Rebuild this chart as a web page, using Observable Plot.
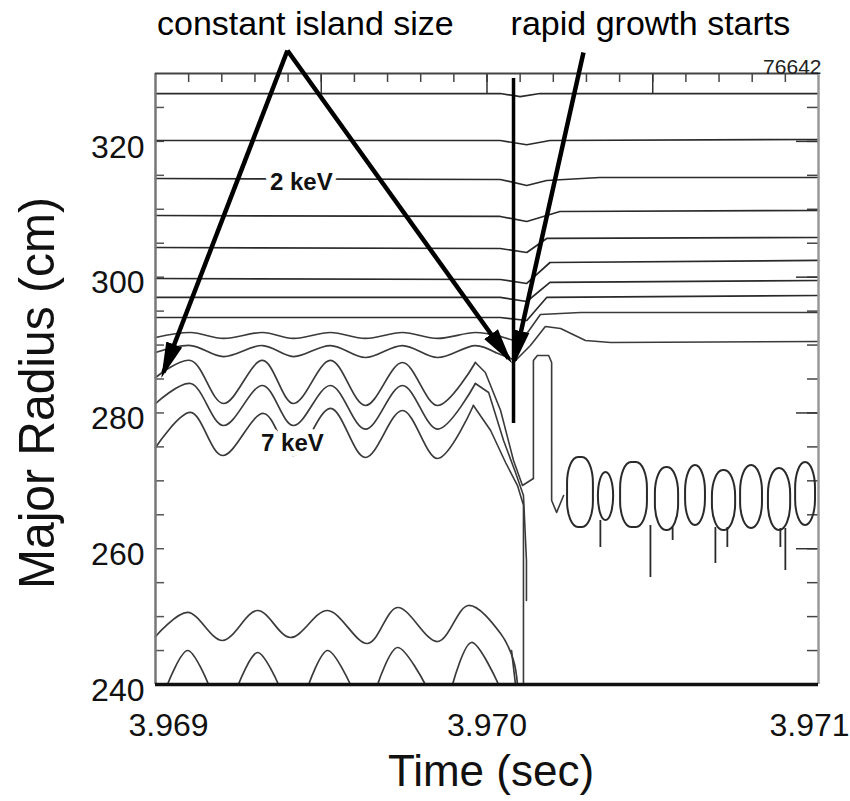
<!DOCTYPE html>
<html><head><meta charset="utf-8">
<script src="https://cdn.jsdelivr.net/npm/d3@7"></script>
<script src="https://cdn.jsdelivr.net/npm/@observablehq/plot@0.6"></script>
<style>html,body{margin:0;padding:0;background:#fff;} #chart svg{display:block;}</style>
</head><body><div id="chart"></div>
<script>
// ---------- axis values ----------
const xTicks = [3.969, 3.970, 3.971];
const yTicks = [240, 260, 280, 300, 320];

// ---------- flat Te contours (time s, major radius cm) ----------
const L1 = [[3.96900,327.05],[3.97004,327.05],[3.97010,326.6],[3.97016,327.05],[3.97100,327.05]];
const L2 = [[3.96900,320.13],[3.97004,320.13],[3.97012,319.5],[3.97019,320.13],[3.97100,320.28]];
const L3 = [[3.96900,314.53],[3.97004,314.39],[3.97012,313.5],[3.97018,314.24],[3.97034,314.68],[3.97100,314.68]];
const L4 = [[3.96900,309.08],[3.97004,308.94],[3.97012,308.2],[3.97022,309.67],[3.97100,309.82]];
const L5 = [[3.96900,304.37],[3.97004,304.22],[3.97012,303.63],[3.97018,305.7],[3.97100,305.84]];
const L6 = [[3.96900,299.8],[3.97004,299.66],[3.97012,299.07],[3.97019,302.16],[3.97100,302.46]];
const L7 = [[3.96900,297.01],[3.97004,297.01],[3.97012,296.42],[3.97019,299.22],[3.97100,299.51]];
const L8 = [[3.96900,294.06],[3.97004,294.06],[3.97012,293.62],[3.97018,297.01],[3.97100,297.3]];

// ---------- oscillating contours (island rotation) ----------
const W9  = [[3.96900,291.11],[3.969106,291.85],[3.969205,290.97],[3.969323,291.85],[3.969416,290.97],[3.969528,291.85],[3.969633,290.97],[3.969745,291.85],[3.969851,290.97],[3.969965,291.85],[3.970041,291.26]];
const T9  = [[3.970041,291.26],[3.970101,290.38],[3.970161,294.5],[3.970282,294.8],[3.97100,294.8]];
const W10 = [[3.96900,288.9],[3.969106,289.93],[3.969205,288.31],[3.969323,289.93],[3.969416,288.31],[3.969528,289.93],[3.969633,288.17],[3.969745,289.93],[3.969851,288.17],[3.969965,289.93],[3.970026,288.9]];
const T10 = [[3.970026,288.9],[3.970086,287.73],[3.970131,289.93],[3.970176,292.73],[3.970222,292.44],[3.970297,290.67],[3.970373,290.38],[3.97100,290.52]];
const W11 = [[3.96900,285.22],[3.969106,287.73],[3.969205,281.39],[3.969323,287.73],[3.969416,281.39],[3.969528,287.73],[3.969633,281.10],[3.969745,287.43],[3.969851,281.10],[3.969965,287.43]];
const T11 = [[3.969965,287.43],[3.969995,285.96],[3.970041,280.36],[3.970080,273.0],[3.970107,269.31],[3.970140,270.34],[3.970140,287.73],[3.970152,288.46],[3.970186,288.46],[3.970195,287.43],[3.970195,267.1],[3.970210,265.34],[3.970231,267.84]];
const W12 = [[3.96900,281.39],[3.969106,284.34],[3.969205,278.15],[3.969323,284.04],[3.969416,278.15],[3.969528,284.04],[3.969633,277.61],[3.969745,284.04],[3.969851,277.61],[3.969965,284.34]];
const T12 = [[3.969965,284.34],[3.970005,283.01],[3.970050,275.94],[3.970086,271.23],[3.970110,267.84],[3.970119,258.27],[3.970119,252.37]];
const W13 = [[3.96900,274.91],[3.969106,280.07],[3.969202,273.73],[3.969326,279.92],[3.969416,273.73],[3.969528,280.66],[3.969633,273.44],[3.969745,280.36],[3.969851,273.29],[3.969959,281.10]];
const T13 = [[3.969959,281.10],[3.970011,277.41],[3.970056,272.70],[3.970092,269.31],[3.970110,266.4],[3.970110,240]];

// ---------- inner contours near the bottom ----------
const B1 = [[3.96900,247.07],[3.969097,250.61],[3.969202,246.48],[3.969308,250.90],[3.969407,246.92],[3.969519,250.90],[3.969640,246.04],[3.969730,251.34],[3.969851,246.33],[3.969944,251.64],[3.970041,247.51],[3.970080,243.54],[3.970092,240]];
const arc1 = [[3.969036,240],[3.969097,245.01],[3.969160,240]];
const arc2 = [[3.969250,240],[3.969308,244.71],[3.969371,240]];
const arc3 = [[3.969462,240],[3.969519,245.01],[3.969588,240]];
const arc4 = [[3.969670,240],[3.969730,245.45],[3.969814,240]];
const arc5 = [[3.969896,240],[3.969953,246.19],[3.970035,240]];
const arc6 = [[3.970074,245.01],[3.970086,240]];

// ---------- turbulent region after the crash: loops [t1, t2, Rtop, Rbottom] ----------
const loops = [
  [3.970243,3.970321,273.44,263.13],
  [3.970336,3.970382,271.23,264.16],
  [3.970403,3.970484,272.70,263.13],
  [3.970508,3.970578,271.97,262.69],
  [3.970599,3.970659,272.26,263.42],
  [3.970680,3.970750,271.52,262.69],
  [3.970765,3.970831,272.26,262.98],
  [3.970849,3.970916,271.82,262.69],
  [3.970931,3.970991,272.70,263.42]
];
// spikes [t, Rtop, Rbottom]
const spikes = [
  [3.970342,264.16,260.18],
  [3.970493,263.42,255.76],
  [3.970560,263.13,261.21],
  [3.970689,263.13,257.82],
  [3.970725,263.13,260.18],
  [3.970885,262.98,260.18],
  [3.970900,262.98,256.79]
];

// ---------- annotations ----------
const crashTime = 3.970080;
const crashMarker = [[crashTime, 329.26, 278.45]];
const arrows = [
  [3.969398, 333.39, 3.969024, 285.96],
  [3.969398, 333.39, 3.970065, 288.02],
  [3.970291, 333.09, 3.970083, 287.73]
];
const topNotes = [
  {t: 3.969452, R: 335.6, text: "constant island size"},
  {t: 3.970493, R: 335.6, text: "rapid growth starts"}
];
const keVLabels = [
  {t: 3.969440, R: 314.0, text: "2 keV"},
  {t: 3.969413, R: 275.6, text: "7 keV"}
];
const shotNumber = "76642";
const xLabel = "Time (sec)";
const yLabel = "Major Radius (cm)";

// ---------- build tables ----------
function table(groups) {
  const rows = [];
  for (const [id, pts] of Object.entries(groups)) for (const [t, R] of pts) rows.push({id, t, R});
  return rows;
}
const flatRows = table({L1, L2, L3, L4, L5, L6, L7, L8});
const waveRows = table({W9, W10, W11, W12, W13, B1, arc1, arc2, arc3, arc4, arc5, arc6});
const tailRows = table({T9, T10, T11, T12, T13});

const minorT = d3.range(1, 20).map(i => 3.969 + i * 0.0001);
const longT = [3.9695, 3.970, 3.9705];
const minorR = d3.range(245, 330, 5);
const majorR = [260, 280, 300, 320];

function filledArrow(color, context) {
  const ns = "http://www.w3.org/2000/svg";
  const doc = (context && context.document) || document;
  const m = doc.createElementNS(ns, "marker");
  m.setAttribute("viewBox", "-30 -10 38 20");
  m.setAttribute("markerWidth", "38");
  m.setAttribute("markerHeight", "20");
  m.setAttribute("markerUnits", "userSpaceOnUse");
  m.setAttribute("orient", "auto");
  m.setAttribute("refX", "0");
  m.setAttribute("refY", "0");
  const p = doc.createElementNS(ns, "path");
  p.setAttribute("d", "M-30,-8.5L6,0L-30,8.5Z");
  p.setAttribute("fill", "#000");
  p.setAttribute("stroke", "none");
  m.appendChild(p);
  return m;
}

const W = 663, H = 611;
const tickFmt = d3.format(".3f");
const chart = Plot.plot({
  width: 850, height: 801,
  marginLeft: 155, marginRight: 32, marginTop: 73, marginBottom: 117,
  x: {domain: [3.969, 3.971], label: null},
  y: {domain: [240, 330], label: null},
  style: {fontFamily: "'Liberation Sans', Arial, Helvetica, sans-serif", color: "#111", background: "#fff", overflow: "visible"},
  marks: [
    // frame ticks
    Plot.ruleX(minorT, {stroke: "#444", strokeWidth: 1.5, insetBottom: H - 9}),
    Plot.ruleX(longT, {stroke: "#333", strokeWidth: 1.5, insetBottom: H - 20}),
    Plot.ruleY(minorR, {stroke: "#555", strokeWidth: 1.5, insetRight: W - 9}),
    Plot.ruleY(minorR, {stroke: "#444", strokeWidth: 1.5, insetLeft: W - 11}),
    Plot.ruleY(majorR, {stroke: "#333", strokeWidth: 1.5, insetLeft: W - 22}),
    // contours
    Plot.line(flatRows, {x: "t", y: "R", z: "id", stroke: "#2a2a2a", strokeWidth: 1.7}),
    Plot.line(waveRows, {x: "t", y: "R", z: "id", curve: "catmull-rom", stroke: "#3a3a3a", strokeWidth: 1.7}),
    Plot.line(tailRows, {x: "t", y: "R", z: "id", stroke: "#3a3a3a", strokeWidth: 1.6}),
    Plot.rect(loops, {x1: d => d[0], x2: d => d[1], y1: d => d[2], y2: d => d[3], rx: 11, ry: 26, fill: "none", stroke: "#2a2a2a", strokeWidth: 2}),
    Plot.ruleX(spikes, {x: d => d[0], y1: d => d[1], y2: d => d[2], stroke: "#2a2a2a", strokeWidth: 1.8}),
    // frame
    Plot.ruleX([3.969], {stroke: "#777", strokeWidth: 2.5}),
    Plot.ruleX([3.971], {stroke: "#999", strokeWidth: 2.5}),
    Plot.ruleY([330], {stroke: "#444", strokeWidth: 2}),
    Plot.ruleY([240], {stroke: "#111", strokeWidth: 3.5}),
    // keV labels with white halo
    Plot.text(keVLabels, {x: "t", y: "R", text: "text", fontSize: 24, fontWeight: "bold", fill: "#111", stroke: "white", strokeWidth: 10}),
    // crash marker and arrows
    Plot.ruleX(crashMarker, {x: d => d[0], y1: d => d[1], y2: d => d[2], stroke: "#000", strokeWidth: 3.5}),
    Plot.link(arrows, {x1: d => d[0], y1: d => d[1], x2: d => d[2], y2: d => d[3], stroke: "#000", strokeWidth: 4.5, markerEnd: filledArrow}),
    Plot.text(topNotes, {x: "t", y: "R", text: "text", fontSize: 34, fill: "#000", lineAnchor: "bottom"}),
    Plot.text([shotNumber], {frameAnchor: "top-right", textAnchor: "end", lineAnchor: "bottom", dx: 3, dy: 0, fontSize: 21, fill: "#222"}),
    // axes
    Plot.axisX({ticks: [xTicks[0]], tickFormat: tickFmt, tickSize: 0, tickPadding: 29, fontSize: 32, dx: 13, label: null}),
    Plot.axisX({ticks: [xTicks[1]], tickFormat: tickFmt, tickSize: 0, tickPadding: 29, fontSize: 32, label: null}),
    Plot.axisX({ticks: [xTicks[2]], tickFormat: tickFmt, tickSize: 0, tickPadding: 29, fontSize: 32, dx: -9, label: null}),
    Plot.axisY({ticks: yTicks, tickSize: 0, tickPadding: 11, fontSize: 32, dy: 6, label: null}),
    Plot.text([xLabel], {frameAnchor: "bottom", textAnchor: "middle", dx: 4, dy: 101, lineAnchor: "bottom", fontSize: 44, fill: "#111"}),
    Plot.text([yLabel], {frameAnchor: "left", textAnchor: "middle", lineAnchor: "middle", dx: -118, dy: 14, rotate: -90, fontSize: 50, fill: "#111"})
  ]
});
// stretch the y-axis title to the length it has in the reference
for (const t of chart.querySelectorAll("text")) {
  if (t.textContent === yLabel) {
    t.setAttribute("textLength", "392");
    t.setAttribute("lengthAdjust", "spacingAndGlyphs");
  }
}
document.getElementById("chart").append(chart);
</script></body></html>
